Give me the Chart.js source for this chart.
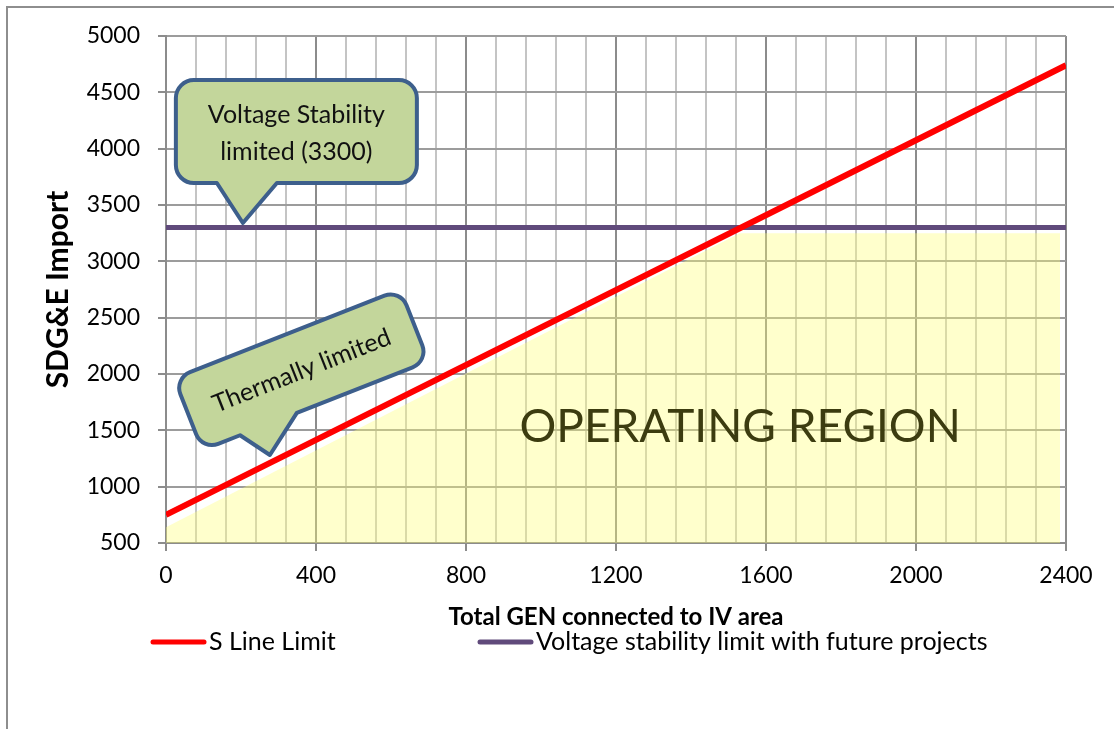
<!DOCTYPE html>
<html>
<head>
<meta charset="utf-8">
<title>SDG&amp;E Import vs Total GEN connected to IV area</title>
<script src="https://cdn.jsdelivr.net/npm/chart.js@4.4.0/dist/chart.umd.min.js"></script>
<style>
  html, body { margin: 0; padding: 0; background: #ffffff; overflow: hidden; }
  #frame { position: absolute; left: 6px; top: 6px; width: 1200px; height: 800px;
           border-left: 2px solid #8e8e8e; border-top: 2px solid #8e8e8e; }
  #wrap { position: absolute; left: 0; top: 0; width: 1114px; height: 729px; }
</style>
</head>
<body>
<div id="frame"></div>
<div id="wrap"><canvas id="chart" width="1114" height="729"></canvas></div>
<script>
// S Line thermal limit (MW import vs MW of generation in the IV area)
const sLineGen = [0, 2400];
const sLineImport = [750, 4740];

// Voltage stability limit with future projects
const voltageGen = [0, 2400];
const voltageImport = [3300, 3300];

// Boundary of the operating region (filled down to the axis)
const regionGen = [0, 1530, 2384];
const regionImport = [640, 3250, 3250];

// Series names
const seriesNames = ['S Line Limit', 'Voltage stability limit with future projects'];

// Axis titles and annotation texts
const xTitle = 'Total GEN connected to IV area';
const yTitle = 'SDG&E Import';
const regionLabel = 'OPERATING REGION';
const regionLabelAt = { x: 1531, y: 1529 };
const voltageNote = ['Voltage Stability', 'limited (3300)'];
const voltageNoteTip = { x: 205, y: 3340 };
const thermalNote = 'Thermally limited';
const thermalNoteTip = { x: 277, y: 1281 };

const toPoints = (xs, ys) => xs.map((x, i) => ({ x: x, y: ys[i] }));

const FONT = 'Lato, "Open Sans", sans-serif';
const RED = '#ff0000';
const PURPLE = '#604a7b';
const CALLOUT_FILL = '#c3d69b';
const CALLOUT_EDGE = '#3d5f8c';

// Rounded box with a pointer on its bottom edge, in local coordinates
function calloutPath(ctx, x, y, w, h, r, baseL, baseR, tipX, tipY) {
  ctx.beginPath();
  ctx.moveTo(x + r, y);
  ctx.arcTo(x + w, y, x + w, y + h, r);
  ctx.arcTo(x + w, y + h, x, y + h, r);
  ctx.lineTo(baseR, y + h);
  ctx.lineTo(tipX, tipY);
  ctx.lineTo(baseL, y + h);
  ctx.arcTo(x, y + h, x, y, r);
  ctx.arcTo(x, y, x + w, y, r);
  ctx.closePath();
}

function paintCallout(ctx) {
  ctx.fillStyle = CALLOUT_FILL;
  ctx.fill();
  ctx.lineWidth = 4;
  ctx.lineJoin = 'round';
  ctx.strokeStyle = CALLOUT_EDGE;
  ctx.stroke();
}

const annotations = {
  id: 'annotations',
  afterDatasetsDraw(chart) {
    const { ctx, scales: { x, y } } = chart;
    ctx.save();
    ctx.fillStyle = '#3c3c10';
    ctx.font = '46px ' + FONT;
    ctx.textAlign = 'center';
    ctx.textBaseline = 'middle';
    ctx.fillText(regionLabel, x.getPixelForValue(regionLabelAt.x), y.getPixelForValue(regionLabelAt.y));
    ctx.restore();
  },
  afterDraw(chart) {
    const { ctx, scales: { x, y }, chartArea } = chart;

    // Voltage stability callout
    ctx.save();
    const tx = x.getPixelForValue(voltageNoteTip.x);
    const ty = y.getPixelForValue(voltageNoteTip.y);
    ctx.translate(tx, ty);
    calloutPath(ctx, -67, -143, 241, 103, 18, -26, 34, 0, 0);
    paintCallout(ctx);
    ctx.fillStyle = '#111';
    ctx.font = '25px ' + FONT;
    ctx.textAlign = 'center';
    ctx.textBaseline = 'middle';
    ctx.fillText(voltageNote[0], 53.5, -108);
    ctx.fillText(voltageNote[1], 53.5, -71);
    ctx.restore();

    // Thermal limit callout, tilted along the S line
    ctx.save();
    const px = x.getPixelForValue(thermalNoteTip.x);
    const py = y.getPixelForValue(thermalNoteTip.y);
    const ang = -0.375;
    const tipLocal = { u: -60.5, v: 67.8 };
    const cx = px - (tipLocal.u * Math.cos(ang) - tipLocal.v * Math.sin(ang));
    const cy = py - (tipLocal.u * Math.sin(ang) + tipLocal.v * Math.cos(ang));
    ctx.translate(cx, cy);
    ctx.rotate(ang);
    calloutPath(ctx, -121.5, -38.5, 243, 77, 17, -81, -20, tipLocal.u, tipLocal.v);
    paintCallout(ctx);
    ctx.fillStyle = '#111';
    ctx.font = '25px ' + FONT;
    ctx.textAlign = 'center';
    ctx.textBaseline = 'middle';
    ctx.fillText(thermalNote, 0, 1);
    ctx.restore();

    // Legend row under the axis title
    ctx.save();
    const ly = chartArea.bottom + 99;
    const items = [
      { ds: chart.data.datasets[0], x0: chartArea.left - 15 },
      { ds: chart.data.datasets[1], x0: chartArea.left + 312 }
    ];
    ctx.font = '25px ' + FONT;
    ctx.textAlign = 'left';
    ctx.textBaseline = 'middle';
    items.forEach(it => {
      ctx.strokeStyle = it.ds.borderColor;
      ctx.lineWidth = 5;
      ctx.lineCap = 'round';
      ctx.beginPath();
      ctx.moveTo(it.x0 + 2, ly);
      ctx.lineTo(it.x0 + 53, ly);
      ctx.stroke();
      ctx.fillStyle = '#000';
      ctx.fillText(it.ds.label, it.x0 + 58, ly);
    });
    ctx.restore();
  }
};

new Chart(document.getElementById('chart'), {
  type: 'line',
  data: {
    datasets: [
      {
        label: seriesNames[0],
        data: toPoints(sLineGen, sLineImport),
        borderColor: RED,
        borderWidth: 6,
        pointRadius: 0,
        fill: false,
        order: 1
      },
      {
        label: seriesNames[1],
        data: toPoints(voltageGen, voltageImport),
        borderColor: PURPLE,
        borderWidth: 5,
        pointRadius: 0,
        fill: false,
        order: 2
      },
      {
        label: regionLabel,
        data: toPoints(regionGen, regionImport),
        borderWidth: 0,
        borderColor: 'rgba(0,0,0,0)',
        backgroundColor: 'rgba(255,255,117,0.37)',
        pointRadius: 0,
        fill: 'start',
        order: 3
      }
    ]
  },
  options: {
    responsive: false,
    animation: false,
    devicePixelRatio: 1,
    layout: { padding: { left: 0, top: 36, right: 48, bottom: 86 } },
    plugins: {
      legend: { display: false },
      tooltip: { enabled: false }
    },
    scales: {
      x: {
        type: 'linear',
        min: 0,
        max: 2400,
        afterFit(scale) { scale.height = 100; },
        ticks: {
          stepSize: 80,
          autoSkip: false,
          maxRotation: 0,
          padding: 11,
          color: '#000',
          font: { family: FONT, size: 23 },
          callback: v => (v % 400 === 0 ? String(v) : '')
        },
        grid: {
          lineWidth: 2,
          tickLength: 8,
          color: c => (c.tick && c.tick.value % 400 === 0 ? '#8c8c8c' : '#c4c4c4'),
          tickColor: c => (c.tick && c.tick.value % 400 === 0 ? '#8c8c8c' : 'rgba(0,0,0,0)')
        },
        border: { color: '#8c8c8c', width: 2 },
        title: {
          display: true,
          text: xTitle,
          color: '#000',
          font: { family: FONT, size: 24, weight: 'bold' },
          padding: { top: 0, bottom: 11 }
        }
      },
      y: {
        min: 500,
        max: 5000,
        afterFit(scale) { scale.width = 166; },
        ticks: {
          stepSize: 500,
          padding: 18,
          color: '#000',
          font: { family: FONT, size: 23 },
          callback: v => String(v)
        },
        grid: {
          lineWidth: 2,
          tickLength: 8,
          color: '#9c9c9c',
          tickColor: '#8c8c8c'
        },
        border: { color: '#8c8c8c', width: 2 },
        title: {
          display: true,
          text: yTitle,
          color: '#000',
          font: { family: FONT, size: 30, weight: 'bold' },
          padding: { top: 40, bottom: 0 }
        }
      }
    }
  },
  plugins: [annotations]
});
</script>
</body>
</html>
